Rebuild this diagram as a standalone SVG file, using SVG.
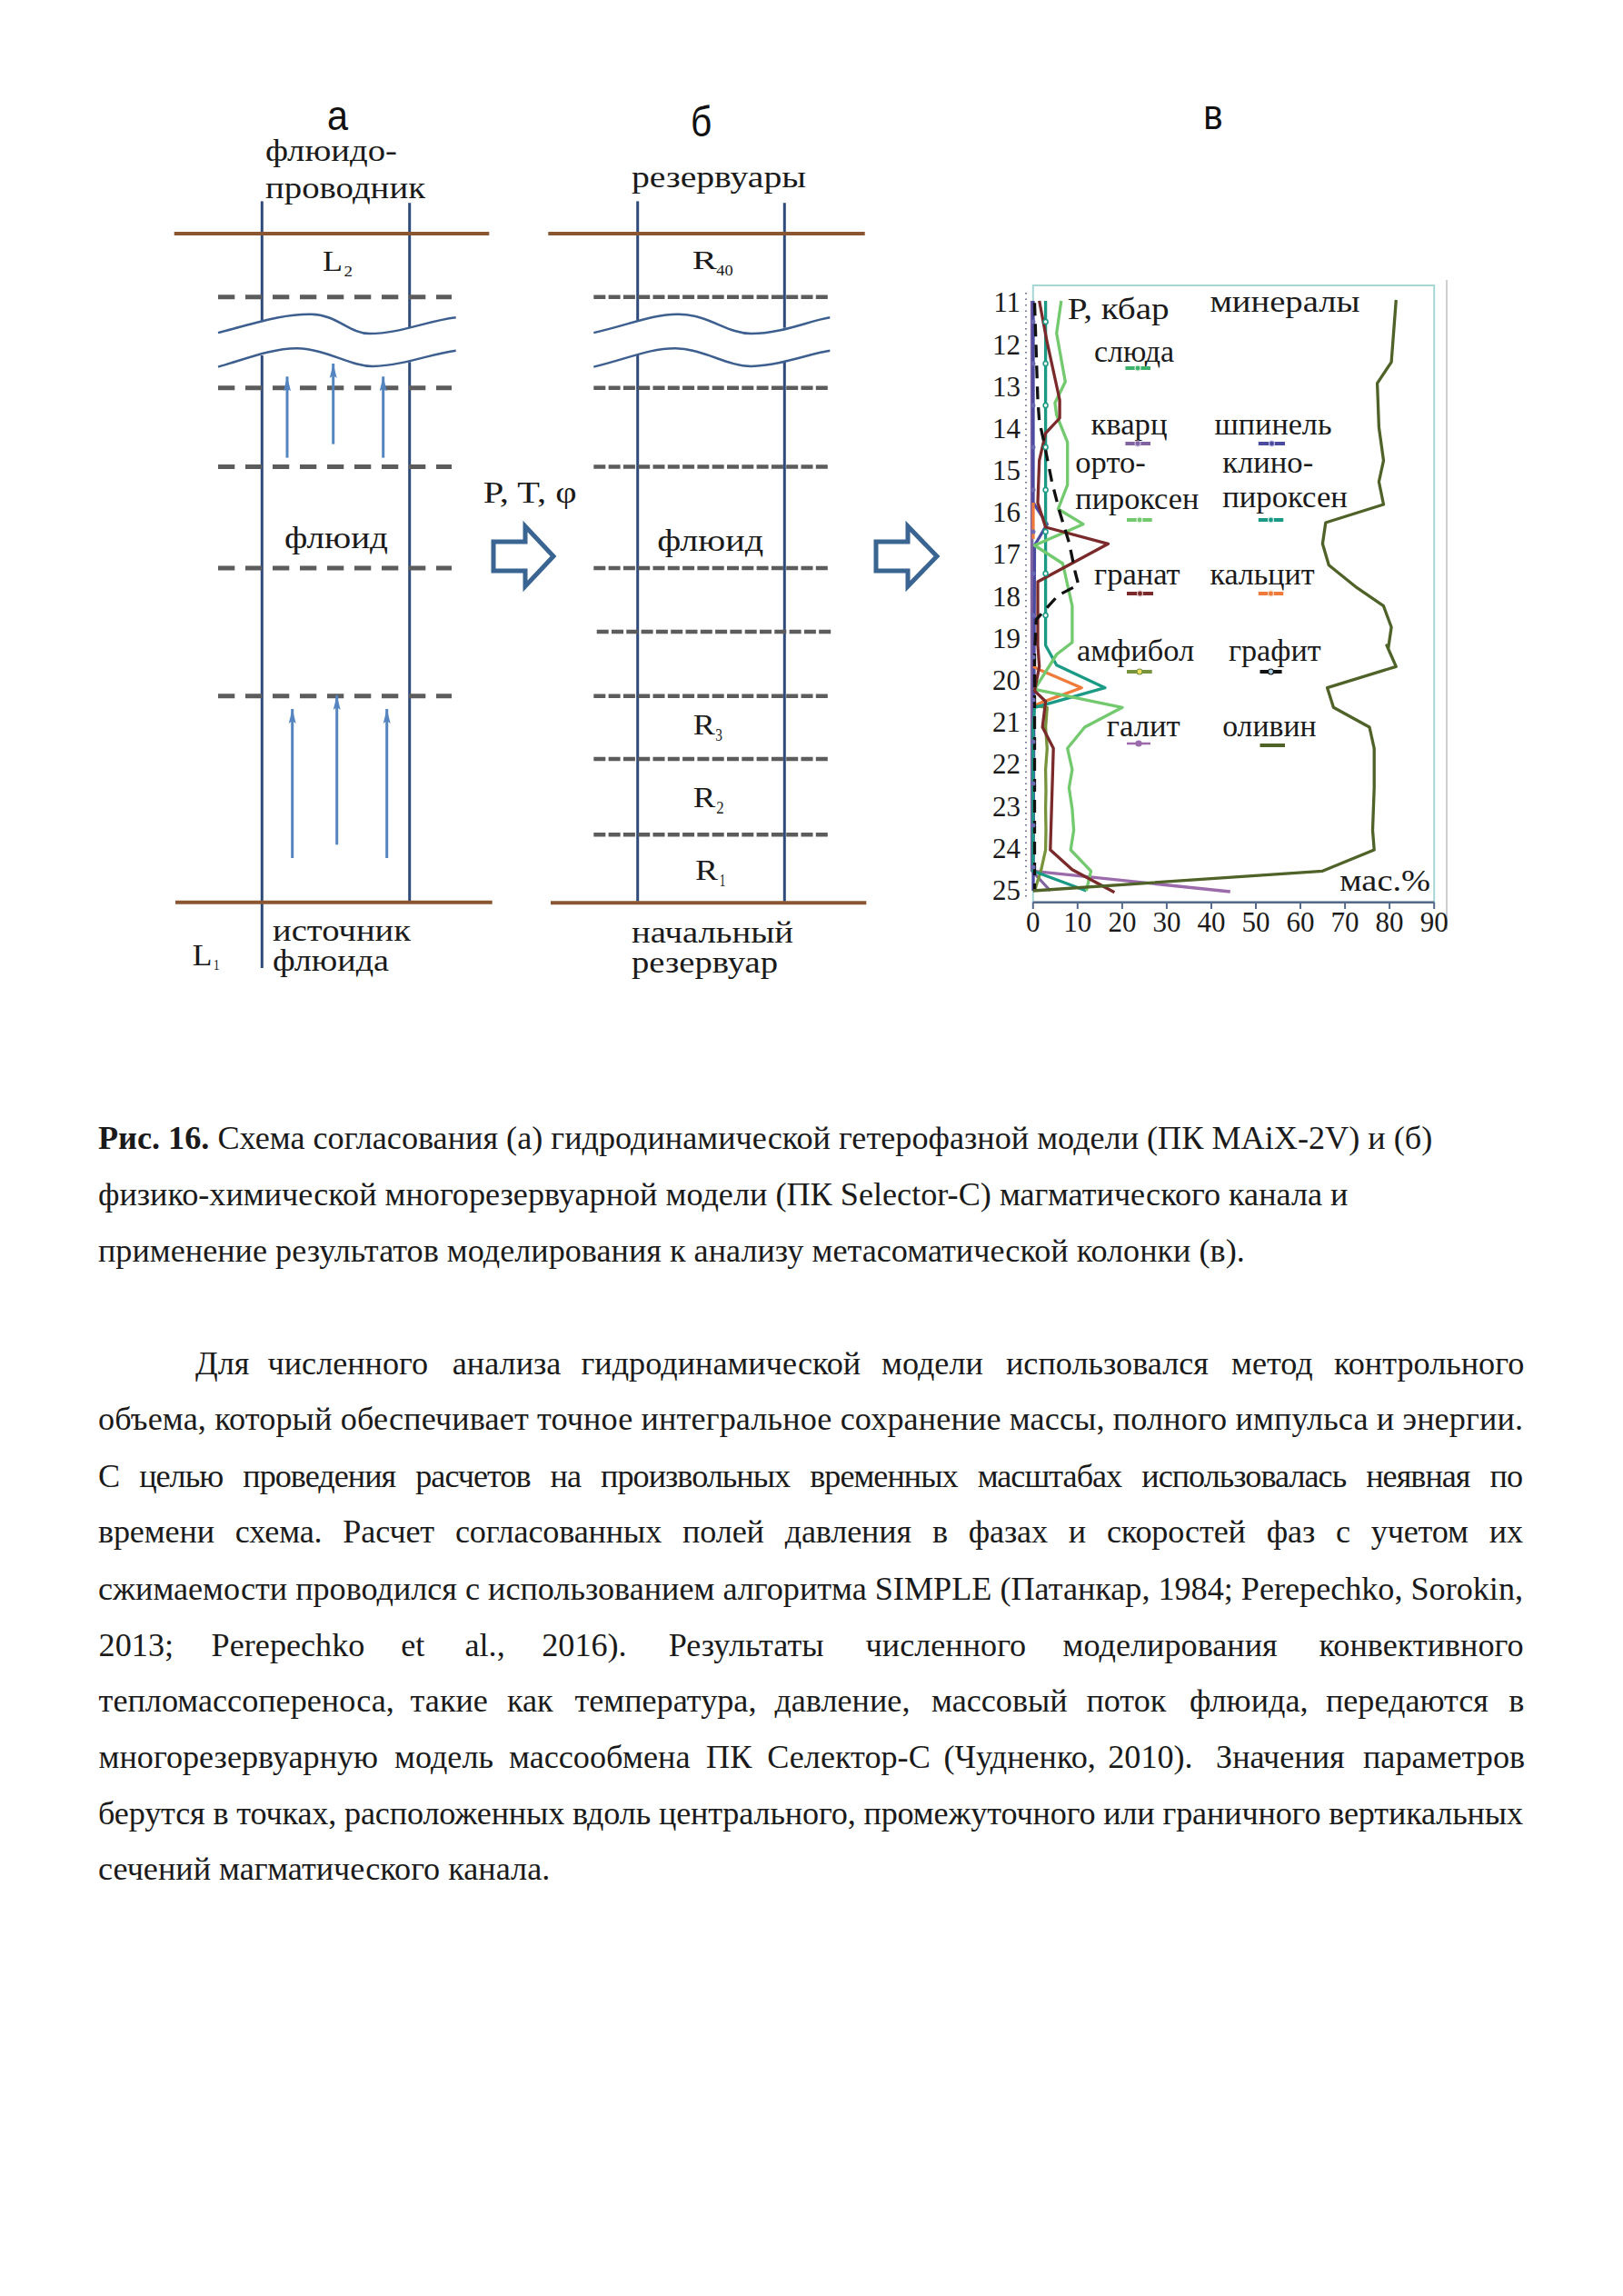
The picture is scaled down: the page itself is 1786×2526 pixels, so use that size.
<svg xmlns="http://www.w3.org/2000/svg" width="1786" height="2526" viewBox="0 0 1786 2526">
<defs>
<style>
.t{font-family:"Liberation Serif","Times New Roman",serif;fill:#1a1a1a}
.lb{font-size:33px}
.sans{font-family:"Liberation Sans",Arial,sans-serif;fill:#111;font-size:47px}
.body{font-family:"Liberation Serif","Times New Roman",serif;font-size:36.2px;fill:#1a1a1a}
.v{stroke:#2f4b7c;stroke-width:3;fill:none}
.brown{stroke:#8a5632;stroke-width:4}
.da{stroke:#5c5c5c;stroke-width:5;stroke-dasharray:18.3 11.7}
.db{stroke:#5c5c5c;stroke-width:4.5;stroke-dasharray:13 3.3}
.wave{stroke:#3d5f8f;stroke-width:2.5;fill:none}
.up{stroke:#5585c0;stroke-width:3;marker-end:url(#ah)}
.blk{fill:#fff;stroke:#3a6491;stroke-width:5;stroke-linejoin:miter}
.ser{fill:none;stroke-width:3.3;stroke-linejoin:round}
.ax{font-family:"Liberation Serif","Times New Roman",serif;font-size:31px;fill:#1a1a1a}
</style>
<marker id="ah" markerUnits="userSpaceOnUse" markerWidth="16" markerHeight="10" refX="16" refY="5" orient="auto" viewBox="0 0 16 10">
<path d="M0,1 L16,5 L0,9 L3,5 z" fill="#5585c0"/>
</marker>
</defs>
<rect width="1786" height="2526" fill="#fff"/>

<!-- Panel a -->
<g id="panel-a">
<text class="sans" x="360" y="143" textLength="23" lengthAdjust="spacingAndGlyphs">а</text>
<text class="t lb" x="292" y="177" textLength="145" lengthAdjust="spacingAndGlyphs">флюидо-</text>
<text class="t lb" x="292" y="218" textLength="176" lengthAdjust="spacingAndGlyphs">проводник</text>
<line class="v" x1="288.3" y1="221.4" x2="288.3" y2="353.6"/>
<line class="v" x1="288.3" y1="391.1" x2="288.3" y2="1065"/>
<line class="v" x1="450.7" y1="223.2" x2="450.7" y2="360.7"/>
<line class="v" x1="450.7" y1="398.2" x2="450.7" y2="991.7"/>
<line class="brown" x1="191.7" y1="257.1" x2="538.3" y2="257.1"/>
<line class="brown" x1="193" y1="992.7" x2="541.7" y2="992.7"/>
<text class="t" x="355" y="298" font-size="32" textLength="22" lengthAdjust="spacingAndGlyphs">L</text>
<text class="t" x="378.5" y="304" font-size="16" textLength="9.5" lengthAdjust="spacingAndGlyphs">2</text>
<line class="da" x1="240" y1="326.8" x2="497" y2="326.8"/>
<line class="da" x1="240" y1="426.8" x2="497" y2="426.8"/>
<line class="da" x1="240" y1="513.6" x2="497" y2="513.6"/>
<line class="da" x1="240" y1="625" x2="497" y2="625"/>
<line class="da" x1="240" y1="765.7" x2="497" y2="765.7"/>
<path class="wave" d="M240,366.1 C280,356 310,345 343,345.7 C370,346 385,367 406.7,367.1 C440,367 470,353 501.7,349.3"/>
<path class="wave" d="M240,403.6 C270,395 300,383 326.7,383.2 C360,384 385,403 410,402.9 C445,402 475,389 501.7,385.7"/>
<line class="up" x1="316" y1="503.6" x2="316" y2="414.3"/>
<line class="up" x1="366.7" y1="488.6" x2="366.7" y2="400"/>
<line class="up" x1="421.7" y1="503.6" x2="421.7" y2="414.3"/>
<line class="up" x1="321.7" y1="944" x2="321.7" y2="780"/>
<line class="up" x1="370.7" y1="929.3" x2="370.7" y2="765"/>
<line class="up" x1="425.7" y1="944" x2="425.7" y2="780"/>
<text class="t lb" x="313" y="603" textLength="114" lengthAdjust="spacingAndGlyphs">флюид</text>
<text class="t lb" x="300" y="1035" textLength="152" lengthAdjust="spacingAndGlyphs">источник</text>
<text class="t lb" x="300" y="1068" textLength="128" lengthAdjust="spacingAndGlyphs">флюида</text>
<text class="t" x="211.7" y="1061.7" font-size="34" textLength="21.7" lengthAdjust="spacingAndGlyphs">L</text>
<text class="t" x="235" y="1067" font-size="16" textLength="6.5" lengthAdjust="spacingAndGlyphs">1</text>
</g>

<!-- Panel b -->
<g id="panel-b">
<text class="sans" x="760" y="150" textLength="23.3" lengthAdjust="spacingAndGlyphs">б</text>
<text class="t lb" x="695" y="206" textLength="192" lengthAdjust="spacingAndGlyphs">резервуары</text>
<line class="v" x1="701.7" y1="221.4" x2="701.7" y2="353.6"/>
<line class="v" x1="701.7" y1="391.1" x2="701.7" y2="991.7"/>
<line class="v" x1="863.3" y1="223.2" x2="863.3" y2="360.7"/>
<line class="v" x1="863.3" y1="398.2" x2="863.3" y2="991.7"/>
<line class="brown" x1="603.3" y1="257.1" x2="951.7" y2="257.1"/>
<line class="brown" x1="606" y1="993.3" x2="953.3" y2="993.3"/>
<text class="t" x="761.7" y="296.4" font-size="30" textLength="27" lengthAdjust="spacingAndGlyphs">R</text>
<text class="t" x="788.3" y="303" font-size="16" textLength="18.4" lengthAdjust="spacingAndGlyphs">40</text>
<line class="db" x1="653.3" y1="326.8" x2="913.3" y2="326.8"/>
<line class="db" x1="653.3" y1="426.8" x2="913.3" y2="426.8"/>
<line class="db" x1="653.3" y1="513.6" x2="913.3" y2="513.6"/>
<line class="db" x1="653.3" y1="625" x2="913.3" y2="625"/>
<line class="db" x1="656.7" y1="695" x2="916.7" y2="695"/>
<line class="db" x1="653.3" y1="765.7" x2="913.3" y2="765.7"/>
<line class="db" x1="653.3" y1="835" x2="913.3" y2="835"/>
<line class="db" x1="653.3" y1="918.3" x2="913.3" y2="918.3"/>
<path class="wave" d="M653.3,366.1 C690,358 720,345 746.7,345.7 C780,346 800,367 826.7,367.1 C860,367 890,353 913.3,349.3"/>
<path class="wave" d="M653.3,403.6 C690,395 715,383 743.3,383.2 C775,384 800,403 826.7,402.9 C860,402 890,389 913.3,385.7"/>
<text class="t lb" x="723.3" y="606" textLength="117" lengthAdjust="spacingAndGlyphs">флюид</text>
<text class="t" x="762.7" y="808.3" font-size="32" textLength="24" lengthAdjust="spacingAndGlyphs">R</text>
<text class="t" x="787.3" y="815" font-size="18" textLength="7.7" lengthAdjust="spacingAndGlyphs">3</text>
<text class="t" x="762.7" y="888.3" font-size="32" textLength="24.5" lengthAdjust="spacingAndGlyphs">R</text>
<text class="t" x="788.3" y="895" font-size="18" textLength="8.4" lengthAdjust="spacingAndGlyphs">2</text>
<text class="t" x="765" y="968.3" font-size="32" textLength="25" lengthAdjust="spacingAndGlyphs">R</text>
<text class="t" x="791.7" y="975" font-size="18" textLength="6.6" lengthAdjust="spacingAndGlyphs">1</text>
<text class="t lb" x="695" y="1036.7" textLength="178" lengthAdjust="spacingAndGlyphs">начальный</text>
<text class="t lb" x="695" y="1070" textLength="161" lengthAdjust="spacingAndGlyphs">резервуар</text>
</g>

<!-- Connectors: block arrows -->
<g id="connectors">
<text class="t lb" x="531.7" y="553.3" textLength="103" lengthAdjust="spacingAndGlyphs">P, T, φ</text>
<polygon class="blk" points="543,596 578,596 578,579 609,612 578,645 578,628 543,628"/>
<polygon class="blk" points="964,596 999,596 999,579 1031,612 999,645 999,628 964,628"/>
</g>

<!-- Panel v: chart -->
<g id="panel-v">
<text class="sans" x="1324.3" y="141.7" textLength="21.4" lengthAdjust="spacingAndGlyphs">в</text>
<line x1="1592" y1="308" x2="1592" y2="1023" stroke="#cfcfcf" stroke-width="2"/>
<rect x="1136.8" y="314" width="441.4" height="678.7" fill="none" stroke="#a6d6d6" stroke-width="2"/>
<line x1="1136.8" y1="992.7" x2="1578.2" y2="992.7" stroke="#556a8a" stroke-width="2.5"/>
<g stroke="#556a8a" stroke-width="2">
<line x1="1136.8" y1="992.7" x2="1136.8" y2="1000"/><line x1="1185.8" y1="992.7" x2="1185.8" y2="1000"/>
<line x1="1234.9" y1="992.7" x2="1234.9" y2="1000"/><line x1="1283.9" y1="992.7" x2="1283.9" y2="1000"/>
<line x1="1333" y1="992.7" x2="1333" y2="1000"/><line x1="1382" y1="992.7" x2="1382" y2="1000"/>
<line x1="1431" y1="992.7" x2="1431" y2="1000"/><line x1="1480.1" y1="992.7" x2="1480.1" y2="1000"/>
<line x1="1529.1" y1="992.7" x2="1529.1" y2="1000"/><line x1="1578.2" y1="992.7" x2="1578.2" y2="1000"/>
</g>
<line x1="1129" y1="322" x2="1129" y2="990" stroke="#7a7a9a" stroke-width="2" stroke-dasharray="1.5 5"/>
<g class="ax" text-anchor="middle">
<text x="1136.8" y="1025">0</text><text x="1185.8" y="1025">10</text><text x="1234.9" y="1025">20</text>
<text x="1283.9" y="1025">30</text><text x="1333" y="1025">40</text><text x="1382" y="1025">50</text>
<text x="1431" y="1025">60</text><text x="1480.1" y="1025">70</text><text x="1529.1" y="1025">80</text>
<text x="1578.2" y="1025">90</text>
</g>
<g class="ax" text-anchor="end">
<text x="1123" y="343.3">11</text><text x="1123" y="389.5">12</text><text x="1123" y="435.7">13</text>
<text x="1123" y="481.9">14</text><text x="1123" y="528.1">15</text><text x="1123" y="574.3">16</text>
<text x="1123" y="620.4">17</text><text x="1123" y="666.6">18</text><text x="1123" y="712.8">19</text>
<text x="1123" y="759">20</text><text x="1123" y="805.2">21</text><text x="1123" y="851.4">22</text>
<text x="1123" y="897.6">23</text><text x="1123" y="943.8">24</text><text x="1123" y="990">25</text>
</g>
<!-- series -->
<polyline class="ser" stroke="#8064a2" points="1135.5,331 1135.5,958 1155.8,980"/>
<polyline class="ser" stroke="#4a4aa0" points="1137,331 1137,553 1152.3,576.7 1138.5,600 1137,980"/>
<polyline class="ser" stroke="#9a6aaa" points="1137,958.3 1353.8,981"/>
<polyline class="ser" stroke="#f07a3a" points="1137,553 1137,593"/>
<polyline class="ser" stroke="#f07a3a" points="1137,733.3 1143.7,736.7 1190.2,756.7 1148.9,771.7 1137,776.7"/>
<polyline class="ser" stroke="#77933c" points="1140.3,776.7 1152.3,778.3 1150.6,800 1152.3,823.3 1150.6,846.7 1151,870 1150.6,890 1151,913 1150.6,935 1145.4,958.3 1138.5,980"/>
<polyline class="ser" stroke="#1a9a85" points="1150.6,331 1150.6,710 1162.7,731.7 1216,756.7 1138.5,778.3 1136.8,800 1136.8,958.3 1195.4,980"/>
<polyline class="ser" stroke="#72c96e" stroke-width="3.8" points="1167.8,331 1162.7,366.7 1172.3,420 1160.9,443.3 1162.7,456.7 1174.7,486.7 1174.7,533.3 1164.4,560 1191.9,576.7 1138.5,600 1169.5,620 1179.9,666.7 1179.9,706.7 1162.7,720 1138.5,758.3 1235,778.3 1193.7,800 1174.7,823.3 1179.9,846.7 1176.4,866.7 1179.9,890 1181.6,913.3 1178.2,935 1200.5,958.3 1195.4,980"/>
<polyline class="ser" stroke="#7a2a2a" points="1143.7,331 1152.3,376.7 1166.1,440 1166.1,460 1150.6,476.7 1143.7,506.7 1142,553.3 1150.6,580 1219.5,598.3 1142,640 1142,710 1143.7,733.3 1138.5,760 1150.6,771.7 1147.2,800 1159.2,823.3 1155.8,935 1179.9,956.7 1226.4,981.7"/>
<polyline class="ser" stroke="#111" stroke-width="4.5" stroke-dasharray="14 9" points="1138.5,333.3 1142,440 1143.7,463.3 1148.9,486.7 1157.5,530 1166.1,563.3 1176.4,596.7 1183.3,630 1186.8,643.3 1164.4,655 1140.3,681.7 1138.5,720 1138.5,980"/>
<polyline class="ser" stroke="#4f6228" stroke-width="4" points="1536.3,330 1531.1,398.3 1515.6,421.7 1517.4,470 1522.5,506.7 1517.4,530 1522.5,555 1458.8,575 1455.4,598.3 1462.3,621.7 1493.3,646.7 1522.5,666.7 1531.1,690 1527.7,713.3 1526,710 1536.3,733.3 1460.6,756.7 1467.4,778.3 1507,800 1512.2,823.3 1512.2,866.7 1510.5,913.3 1512.2,935 1455.4,958.3 1136.8,980"/>
<g fill="#fff" stroke="#1a9a85" stroke-width="1.5">
<circle cx="1150.6" cy="354" r="2.5"/><circle cx="1150.6" cy="400" r="2.5"/><circle cx="1150.6" cy="446" r="2.5"/>
<circle cx="1150.6" cy="492" r="2.5"/><circle cx="1150.6" cy="539" r="2.5"/><circle cx="1150.6" cy="585" r="2.5"/>
<circle cx="1150.6" cy="631" r="2.5"/><circle cx="1150.6" cy="677" r="2.5"/>
</g>
<g fill="#6a6ab0">
<circle cx="1137" cy="354" r="2.5"/><circle cx="1137" cy="400" r="2.5"/><circle cx="1137" cy="446" r="2.5"/>
<circle cx="1137" cy="492" r="2.5"/><circle cx="1137" cy="539" r="2.5"/><circle cx="1137" cy="585" r="2.5"/>
<circle cx="1137" cy="631" r="2.5"/><circle cx="1137" cy="677" r="2.5"/><circle cx="1137" cy="723" r="2.5"/>
<circle cx="1137" cy="770" r="2.5"/><circle cx="1137" cy="816" r="2.5"/><circle cx="1137" cy="862" r="2.5"/>
<circle cx="1137" cy="908" r="2.5"/><circle cx="1137" cy="954" r="2.5"/>
</g>
<!-- legend -->
<g class="t lb">
<text x="1174.7" y="351" textLength="112" lengthAdjust="spacingAndGlyphs">P, кбар</text>
<text x="1331.4" y="343" textLength="165" lengthAdjust="spacingAndGlyphs">минералы</text>
<text x="1204" y="398.3" textLength="88" lengthAdjust="spacingAndGlyphs">слюда</text>
<text x="1200.5" y="478" textLength="84" lengthAdjust="spacingAndGlyphs">кварц</text>
<text x="1336.5" y="478" textLength="129" lengthAdjust="spacingAndGlyphs">шпинель</text>
<text x="1183.3" y="520" textLength="77.5" lengthAdjust="spacingAndGlyphs">орто-</text>
<text x="1345.2" y="520" textLength="100" lengthAdjust="spacingAndGlyphs">клино-</text>
<text x="1183.3" y="560" textLength="136" lengthAdjust="spacingAndGlyphs">пироксен</text>
<text x="1345.2" y="558" textLength="137.7" lengthAdjust="spacingAndGlyphs">пироксен</text>
<text x="1204" y="643" textLength="94.7" lengthAdjust="spacingAndGlyphs">гранат</text>
<text x="1331.4" y="643" textLength="115.3" lengthAdjust="spacingAndGlyphs">кальцит</text>
<text x="1185" y="727" textLength="129.2" lengthAdjust="spacingAndGlyphs">амфибол</text>
<text x="1352" y="727" textLength="101.6" lengthAdjust="spacingAndGlyphs">графит</text>
<text x="1217.7" y="810" textLength="81" lengthAdjust="spacingAndGlyphs">галит</text>
<text x="1345.2" y="810" textLength="103.3" lengthAdjust="spacingAndGlyphs">оливин</text>
<text x="1474.3" y="980" textLength="99.8" lengthAdjust="spacingAndGlyphs">мас.%</text>
</g>
<g stroke-width="4">
<line x1="1238.4" y1="405" x2="1266" y2="405" stroke="#3bb36b"/>
<line x1="1238.4" y1="488" x2="1266" y2="488" stroke="#8064a2"/>
<line x1="1384.8" y1="488" x2="1414" y2="488" stroke="#4a4aa0"/>
<line x1="1240" y1="572" x2="1267.7" y2="572" stroke="#72c96e"/>
<line x1="1384.8" y1="572" x2="1412.3" y2="572" stroke="#1a9a85"/>
<line x1="1240" y1="653" x2="1269" y2="653" stroke="#7a2a2a"/>
<line x1="1384.8" y1="653" x2="1412.3" y2="653" stroke="#f07a3a"/>
<line x1="1240" y1="739" x2="1267.7" y2="739" stroke="#77933c"/>
<line x1="1386.5" y1="739" x2="1410.6" y2="739" stroke="#111"/>
<line x1="1240" y1="818" x2="1266" y2="818" stroke="#9a6aaa" stroke-width="2.5"/>
<line x1="1386.5" y1="820" x2="1414" y2="820" stroke="#4f6228"/>
</g>
<g stroke-width="1.2">
<circle cx="1252" cy="405" r="3" fill="#3bb36b" stroke="#d8f0d8"/>
<circle cx="1252" cy="488" r="3" fill="#8064a2" stroke="#c8b8e0"/>
<circle cx="1399.5" cy="488" r="3" fill="#4a4aa0" stroke="#c0c0e8"/>
<circle cx="1254" cy="572" r="3" fill="#72c96e" stroke="#e0f5e0"/>
<circle cx="1398.5" cy="572" r="3" fill="#1a9a85" stroke="#d0f0ea"/>
<circle cx="1254.5" cy="653" r="3" fill="#7a2a2a" stroke="#e0c0c0"/>
<circle cx="1398.5" cy="653" r="3" fill="#f07a3a" stroke="#f8d8c0"/>
<circle cx="1254" cy="739" r="3" fill="#f0e060" stroke="#77933c"/>
<circle cx="1398.5" cy="739" r="3" fill="#a8d0e8" stroke="#111"/>
<circle cx="1253" cy="818" r="3" fill="#9a6aaa" stroke="#9a6aaa"/>
</g>
</g>

<!-- Caption -->
<g id="caption" class="body">
<text x="108" y="1264.3"><tspan font-weight="bold">Рис. 16.</tspan> Схема согласования (а) гидродинамической гетерофазной модели (ПК MAiX-2V) и (б)</text>
<text x="108" y="1326">физико-химической многорезервуарной модели (ПК Selector-C) магматического канала и</text>
<text x="108" y="1388.3">применение результатов моделирования к анализу метасоматической колонки (в).</text>
</g>

<!-- Body text -->
<g id="body" class="body">
<text y="1511.7"><tspan x="215">Для</tspan><tspan x="294.5">численного</tspan><tspan x="497.8">анализа</tspan><tspan x="639.5">гидродинамической</tspan><tspan x="970">модели</tspan><tspan x="1107">использовался</tspan><tspan x="1355">метод</tspan><tspan x="1468">контрольного</tspan></text>
<text x="108" y="1573.3" textLength="1568" lengthAdjust="spacing">объема, который обеспечивает точное интегральное сохранение массы, полного импульса и энергии.</text>
<text x="108" y="1635.7" textLength="1568" lengthAdjust="spacing" word-spacing="14">С целью проведения расчетов на произвольных временных масштабах использовалась неявная по</text>
<text x="108" y="1697.3" textLength="1568" lengthAdjust="spacing" word-spacing="14">времени схема. Расчет согласованных полей давления в фазах и скоростей фаз с учетом их</text>
<text x="108" y="1759.5" textLength="1568" lengthAdjust="spacing">сжимаемости проводился с использованием алгоритма SIMPLE (Патанкар, 1984; Perepechko, Sorokin,</text>
<text y="1821.7"><tspan x="108.6">2013;</tspan><tspan x="232.6">Perepechko</tspan><tspan x="441.3">et</tspan><tspan x="511.5">al.,</tspan><tspan x="596.2">2016).</tspan><tspan x="735.7">Результаты</tspan><tspan x="952.6">численного</tspan><tspan x="1169.6">моделирования</tspan><tspan x="1451.6">конвективного</tspan></text>
<text y="1883.3"><tspan x="108.6">тепломассопереноса,</tspan><tspan x="451.6">такие</tspan><tspan x="558">как</tspan><tspan x="632.4">температура,</tspan><tspan x="852.4">давление,</tspan><tspan x="1025">массовый</tspan><tspan x="1195.4">поток</tspan><tspan x="1309">флюида,</tspan><tspan x="1458.9">передаются</tspan><tspan x="1660.3">в</tspan></text>
<text y="1945"><tspan x="108.6">многорезервуарную</tspan><tspan x="434">модель</tspan><tspan x="560">массообмена</tspan><tspan x="777">ПК</tspan><tspan x="844.2">Селектор-С</tspan><tspan x="1038.4">(Чудненко,</tspan><tspan x="1219.2">2010).</tspan><tspan x="1338">Значения</tspan><tspan x="1500">параметров</tspan></text>
<text x="108" y="2006.7" textLength="1568" lengthAdjust="spacing">берутся в точках, расположенных вдоль центрального, промежуточного или граничного вертикальных</text>
<text x="108" y="2068.3">сечений магматического канала.</text>
</g>
</svg>
